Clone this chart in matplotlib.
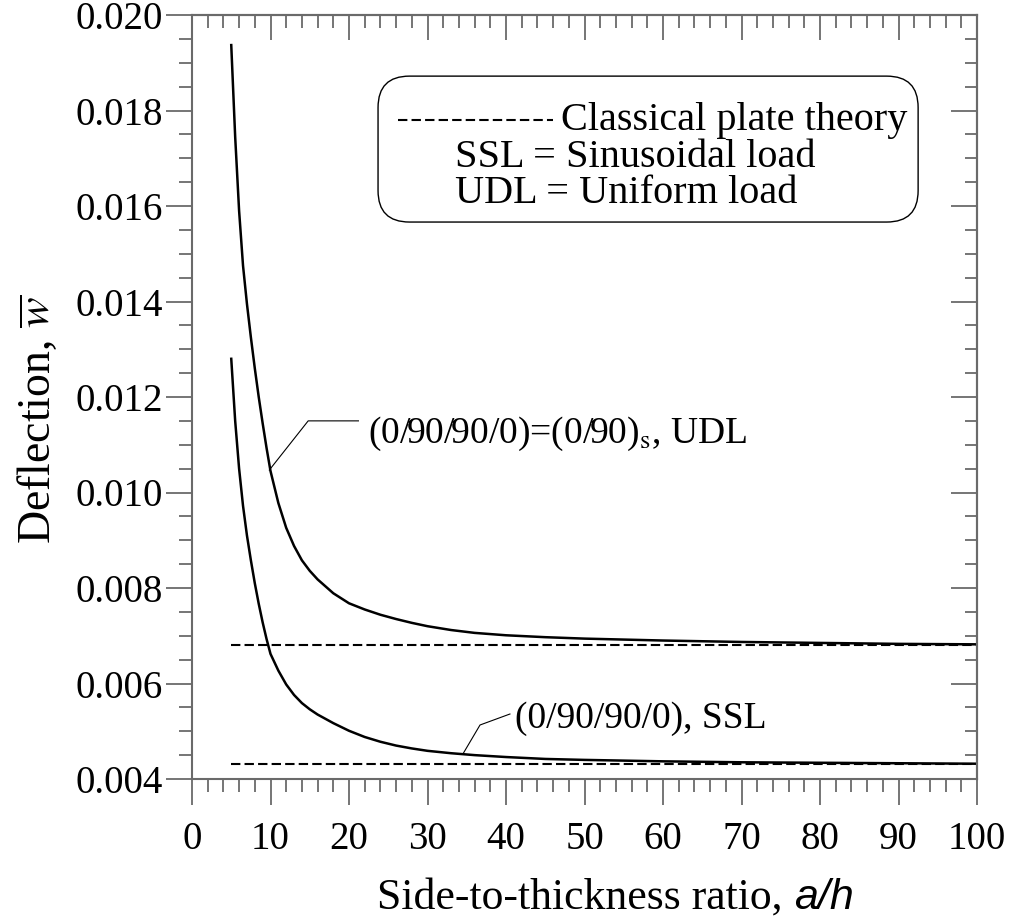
import matplotlib
matplotlib.use('Agg')
import matplotlib.pyplot as plt
from matplotlib.patches import FancyBboxPatch
from matplotlib.lines import Line2D
from matplotlib.ticker import MultipleLocator

plt.rcParams['font.family'] = ['Liberation Serif', 'DejaVu Serif']
plt.rcParams['mathtext.fontset'] = 'stix'

# deflection vs side-to-thickness ratio
ah_udl = [5, 5.5, 6, 6.5, 7, 7.5, 8, 8.5, 9, 9.5, 10, 11, 12, 13, 14, 15, 16, 18,
          20, 22, 24, 26, 28, 30, 33, 36, 40, 45, 50, 60, 70, 80, 90, 100]
w_udl = [0.01937, 0.01745, 0.01590, 0.01475, 0.01395, 0.01325, 0.01260, 0.01200,
         0.01145, 0.01093, 0.01045, 0.00978, 0.00926, 0.00888, 0.00858, 0.00836,
         0.00818, 0.00789, 0.00768, 0.00755, 0.00744, 0.00735, 0.00727, 0.00720,
         0.00712, 0.00706, 0.00701, 0.00697, 0.00694, 0.00690, 0.00687, 0.00685,
         0.00683, 0.00682]

ah_ssl = [5, 5.5, 6, 6.5, 7, 7.5, 8, 8.5, 9, 9.5, 10, 11, 12, 13, 14, 15, 16, 18,
          20, 22, 24, 26, 28, 30, 33, 36, 40, 45, 50, 60, 70, 80, 90, 100]
w_ssl = [0.01280, 0.01150, 0.01050, 0.00972, 0.00910, 0.00858, 0.00810, 0.00767,
         0.00728, 0.00693, 0.00662, 0.00627, 0.00598, 0.00576, 0.00559, 0.00546,
         0.00535, 0.00517, 0.00501, 0.00488, 0.00478, 0.00470, 0.00464, 0.00459,
         0.00454, 0.00450, 0.00446, 0.00442, 0.00440, 0.00437, 0.00435, 0.00434,
         0.00433, 0.00432]

# classical plate theory values
ah_cpt = [5, 100]
cpt_udl = 0.00680
cpt_ssl = 0.00431

xticks = list(range(0, 101, 10))
yticks = [0.004, 0.006, 0.008, 0.010, 0.012, 0.014, 0.016, 0.018, 0.020]
ytick_labels = ['%.3f' % v for v in yticks]

gray = '#6a6a6a'
dash = (4.5, 2.0)

fig = plt.figure(figsize=(10.13, 9.18), dpi=100)
ax = fig.add_axes([192 / 1013, 1 - 779 / 918, 785 / 1013, 764 / 918])

ax.plot(ah_udl, w_udl, color='black', lw=1.8)
ax.plot(ah_ssl, w_ssl, color='black', lw=1.8)
ax.plot(ah_cpt, [cpt_udl] * 2, color='black', lw=1.5, dashes=dash)
ax.plot(ah_cpt, [cpt_ssl] * 2, color='black', lw=1.5, dashes=dash)

ax.set_xlim(0, 100)
ax.set_ylim(0.004, 0.020)
ax.set_xticks(xticks)
ax.set_yticks(yticks)
ax.set_yticklabels(ytick_labels)
ax.xaxis.set_minor_locator(MultipleLocator(2))
ax.yaxis.set_minor_locator(MultipleLocator(0.0005))
ax.tick_params(which='both', direction='out', color=gray, width=1.3,
               labelsize=28, top=False, right=False)
ax.tick_params(which='major', length=19)
ax.tick_params(which='minor', length=9.5)
ax.tick_params(axis='x', pad=11)
ax.tick_params(axis='y', pad=2)
for s in ax.spines.values():
    s.set_color(gray)
    s.set_linewidth(1.5)

# inward ticks on top and right
top = ax.secondary_xaxis('top')
top.set_xticks(xticks)
top.xaxis.set_minor_locator(MultipleLocator(2))
top.tick_params(which='both', direction='in', color=gray, width=1.3, labeltop=False)
top.tick_params(which='major', length=18)
top.tick_params(which='minor', length=9.5)
top.spines['top'].set_color(gray)
top.spines['top'].set_linewidth(1.5)
right = ax.secondary_yaxis('right')
right.set_yticks(yticks)
right.yaxis.set_minor_locator(MultipleLocator(0.0005))
right.tick_params(which='both', direction='in', color=gray, width=1.3, labelright=False)
right.tick_params(which='major', length=19)
right.tick_params(which='minor', length=9)
right.spines['right'].set_color(gray)
right.spines['right'].set_linewidth(1.5)

# axis labels
ax.set_ylabel(r'Deflection, $\overline{w}$', fontsize=33)
ax.yaxis.set_label_coords(-0.168, 0.47)
xl = ax.text(0.236, -0.170, 'Side-to-thickness ratio, ', transform=ax.transAxes,
             fontsize=31.5, ha='left', va='baseline')
ax.annotate('a/h', xy=(1, 0), xycoords=xl, fontsize=31, family='Liberation Sans',
            style='italic', ha='left', va='bottom')

# curve labels with leader lines
ax.plot([9.85, 14.8, 21.2], [0.01047, 0.0115, 0.0115], color='black', lw=0.8)
ax.text(22.4, 0.01104, r'(0/90/90/0)=(0/90)$_{\mathrm{s}}$, UDL', fontsize=27,
        ha='left', va='baseline')
ax.plot([34.56, 36.69, 40.5], [0.004538, 0.005131, 0.005361], color='black', lw=0.8)
ax.text(41.2, 0.00507, '(0/90/90/0), SSL', fontsize=27, ha='left', va='baseline')

# legend box
box = FancyBboxPatch((0.237, 0.729), 0.688, 0.191, boxstyle='round,pad=0,rounding_size=0.04',
                     mutation_aspect=785 / 764, transform=ax.transAxes,
                     fc='white', ec='black', lw=1.0)
ax.add_patch(box)
ax.add_line(Line2D([0.262, 0.460], [0.862, 0.862], transform=ax.transAxes,
                   color='black', lw=1.5, dashes=dash))
ax.text(0.470, 0.849, 'Classical plate theory', transform=ax.transAxes,
        fontsize=29, ha='left', va='baseline')
ax.text(0.335, 0.801, 'SSL = Sinusoidal load', transform=ax.transAxes,
        fontsize=29, ha='left', va='baseline')
ax.text(0.335, 0.754, 'UDL = Uniform load', transform=ax.transAxes,
        fontsize=29, ha='left', va='baseline')

fig.savefig('out.png', dpi=100)
